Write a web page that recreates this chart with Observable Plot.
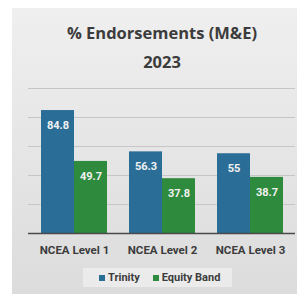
<!DOCTYPE html>
<html>
<head>
<meta charset="utf-8">
<script src="https://cdn.jsdelivr.net/npm/d3@7"></script>
<script src="https://cdn.jsdelivr.net/npm/@observablehq/plot@0.6"></script>
<style>
  html, body { margin: 0; padding: 0; background: #ffffff; width: 297px; height: 294px; overflow: hidden; }
  #card { position: absolute; left: 12px; top: 8px; width: 285px; height: 286px;
          background: linear-gradient(#efefef, #dcdcdc); font-family: Roboto, "Open Sans", sans-serif; }
  #title { position: absolute; left: 0; top: 10px; width: 300px; text-align: center; font-weight: 700;
           font-family: "Open Sans", Roboto, sans-serif;
           font-size: 16.5px; line-height: 29px; color: #3c3c3c; }
  #chart { position: absolute; left: 0; top: 72px; }
  #legend { position: absolute; left: 71px; top: 260px; width: 149px; height: 19px; background: #ebebeb;
            font-size: 11px; font-weight: 700; color: #3c3c3c; display: flex; align-items: center; }
  .sw { display: inline-block; width: 6px; height: 6px; margin-right: 3px; }
  .item { display: inline-flex; align-items: center; }
</style>
</head>
<body>
<div id="card">
  <div id="title"></div>
  <div id="chart"></div>
  <div id="legend"></div>
</div>
<script>
const titleLines = ["% Endorsements (M&E)", "2023"];
const levels = ["NCEA Level 1", "NCEA Level 2", "NCEA Level 3"];
const series = ["Trinity", "Equity Band"];
const trinity = [84.8, 56.3, 55];
const equity = [49.7, 37.8, 38.7];
const colors = ["#2a6e98", "#2e8a3c"];
const gridTicks = [20, 40, 60, 80, 100];

const data = [];
levels.forEach((l, i) => {
  data.push({level: l, series: series[0], value: trinity[i]});
  data.push({level: l, series: series[1], value: equity[i]});
});

document.getElementById("title").innerHTML = titleLines.map(t => t.replace(/&/g, "&amp;")).join("<br>");

const half = 33;
const chart = Plot.plot({
  width: 285,
  height: 185,
  marginLeft: 16,
  marginRight: 2,
  marginTop: 8,
  marginBottom: 32,
  style: {background: "transparent", fontFamily: "Roboto, sans-serif", fontSize: "11.5px", fontWeight: "700", color: "#3c3c3c"},
  x: {domain: levels, paddingInner: 0.254, paddingOuter: 0.1355, align: 0.5, tickSize: 0, tickPadding: 12, label: null},
  y: {domain: [0, 100], axis: null},
  color: {domain: series, range: colors},
  marks: [
    Plot.ruleY(gridTicks, {stroke: "#c6c6c6", strokeWidth: 1}),
    Plot.barY(data.filter(d => d.series === series[0]), {x: "level", y: "value", fill: "series", insetRight: half}),
    Plot.barY(data.filter(d => d.series === series[1]), {x: "level", y: "value", fill: "series", insetLeft: half}),
    Plot.text(data.filter(d => d.series === series[0]), {x: "level", y: "value", text: d => String(d.value), dx: -half / 2, dy: 15, fill: "#f2f2f2", fontSize: 11, fontWeight: 700}),
    Plot.text(data.filter(d => d.series === series[1]), {x: "level", y: "value", text: d => String(d.value), dx: half / 2, dy: 15, fill: "#f2f2f2", fontSize: 11, fontWeight: 700}),
    Plot.ruleY([0], {stroke: "#4a4a4a", strokeWidth: 1.5})
  ]
});
document.getElementById("chart").appendChild(chart);

const legend = document.getElementById("legend");
series.forEach((s, i) => {
  const item = document.createElement("span");
  item.className = "item";
  item.style.marginLeft = i === 0 ? "16px" : "13px";
  const sw = document.createElement("span");
  sw.className = "sw";
  sw.style.background = colors[i];
  item.appendChild(sw);
  item.appendChild(document.createTextNode(s));
  legend.appendChild(item);
});
</script>
</body>
</html>
